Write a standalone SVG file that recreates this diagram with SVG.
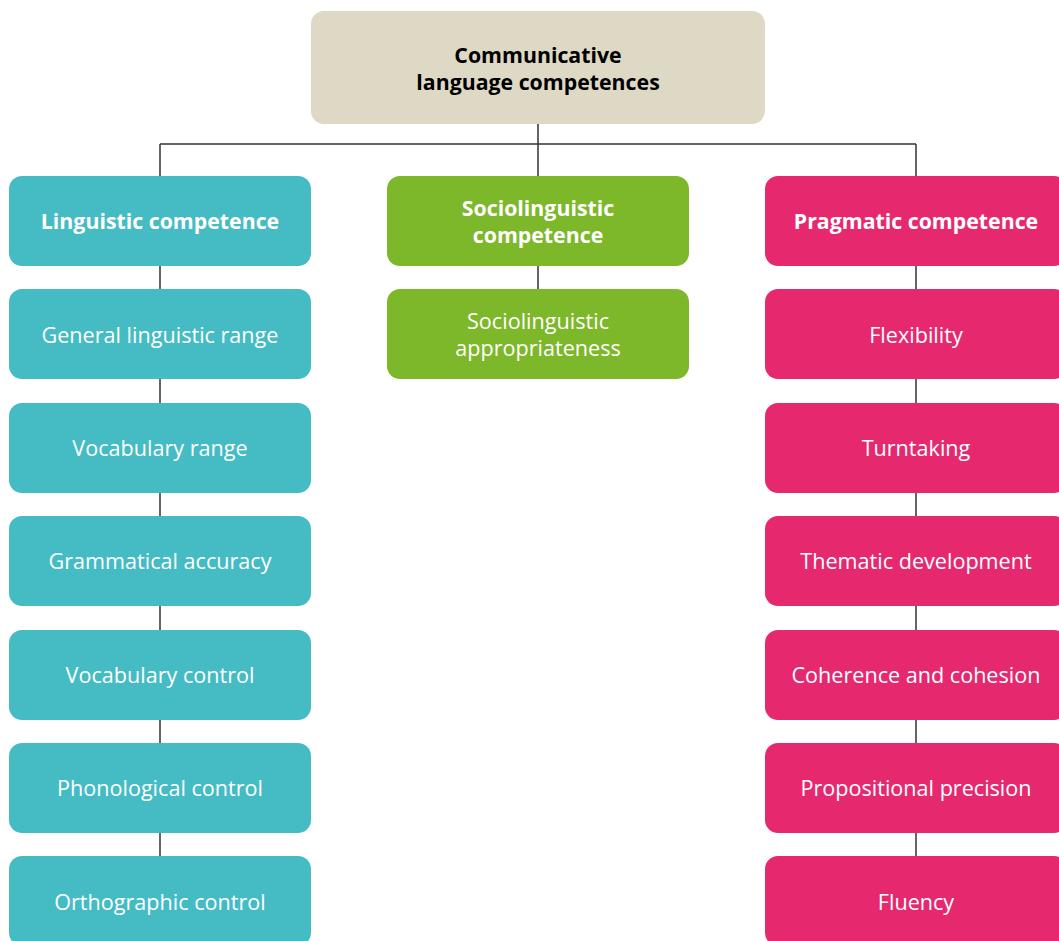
<svg xmlns="http://www.w3.org/2000/svg" width="1059" height="941" viewBox="0 0 1059 941">
<style>
.t{font-family:"Open Sans","Noto Sans",sans-serif;font-size:21.6px;fill:#fff;text-anchor:middle}
.b{font-weight:bold;font-size:21.3px}
.k{fill:#000}
.lin{fill:#45BBC4}
.soc{fill:#7DB72A}
.pra{fill:#E6296F}
.top{fill:#DDD9C4}
.c{stroke:#333;stroke-width:1.5;fill:none}
</style>
<rect width="1059" height="941" fill="#fff"/>
<g id="connectors">
<path class="c" d="M538 124V289M160 144H916M160 144V941M916 144V941"/>
</g>
<g id="root"><rect class="top" x="311" y="11" width="454" height="113" rx="13"/>
<text class="t b k" x="538" y="63">Communicative</text><text class="t b k" x="538" y="90">language competences</text></g>
<g id="linguistic"><rect class="lin" x="9" y="176" width="302" height="90" rx="13"/><text class="t b" x="160" y="229">Linguistic competence</text></g>
<g id="general-linguistic-range"><rect class="lin" x="9" y="289" width="302" height="90" rx="13"/><text class="t" x="160" y="343">General linguistic range</text></g>
<g id="vocabulary-range"><rect class="lin" x="9" y="403" width="302" height="90" rx="13"/><text class="t" x="160" y="456">Vocabulary range</text></g>
<g id="grammatical-accuracy"><rect class="lin" x="9" y="516" width="302" height="90" rx="13"/><text class="t" x="160" y="569">Grammatical accuracy</text></g>
<g id="vocabulary-control"><rect class="lin" x="9" y="630" width="302" height="90" rx="13"/><text class="t" x="160" y="683">Vocabulary control</text></g>
<g id="phonological-control"><rect class="lin" x="9" y="743" width="302" height="90" rx="13"/><text class="t" x="160" y="796">Phonological control</text></g>
<g id="orthographic-control"><rect class="lin" x="9" y="856" width="302" height="90" rx="13"/><text class="t" x="160" y="910">Orthographic control</text></g>
<g id="sociolinguistic"><rect class="soc" x="387" y="176" width="302" height="90" rx="13"/><text class="t b" x="538" y="216">Sociolinguistic</text><text class="t b" x="538" y="243">competence</text></g>
<g id="sociolinguistic-appropriateness"><rect class="soc" x="387" y="289" width="302" height="90" rx="13"/><text class="t" x="538" y="329">Sociolinguistic</text><text class="t" x="538" y="356">appropriateness</text></g>
<g id="pragmatic"><rect class="pra" x="765" y="176" width="302" height="90" rx="13"/><text class="t b" x="916" y="229">Pragmatic competence</text></g>
<g id="flexibility"><rect class="pra" x="765" y="289" width="302" height="90" rx="13"/><text class="t" x="916" y="343">Flexibility</text></g>
<g id="turntaking"><rect class="pra" x="765" y="403" width="302" height="90" rx="13"/><text class="t" x="916" y="456">Turntaking</text></g>
<g id="thematic-development"><rect class="pra" x="765" y="516" width="302" height="90" rx="13"/><text class="t" x="916" y="569">Thematic development</text></g>
<g id="coherence-and-cohesion"><rect class="pra" x="765" y="630" width="302" height="90" rx="13"/><text class="t" x="916" y="683">Coherence and cohesion</text></g>
<g id="propositional-precision"><rect class="pra" x="765" y="743" width="302" height="90" rx="13"/><text class="t" x="916" y="796">Propositional precision</text></g>
<g id="fluency"><rect class="pra" x="765" y="856" width="302" height="90" rx="13"/><text class="t" x="916" y="910">Fluency</text></g>
</svg>
